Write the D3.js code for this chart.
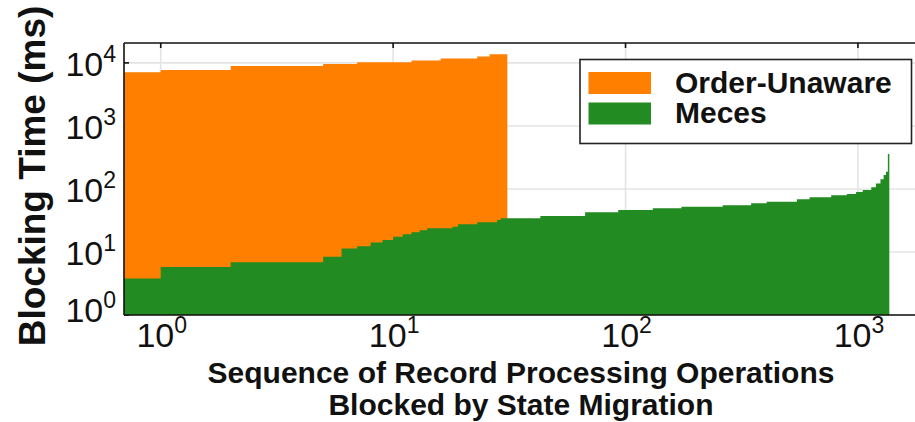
<!DOCTYPE html>
<html>
<head>
<meta charset="utf-8">
<script src="https://cdn.jsdelivr.net/npm/d3@7"></script>
<style>
  html, body { margin: 0; padding: 0; background: #fff; }
  svg { display: block; }
  text { font-family: "Liberation Sans", Arial, Helvetica, sans-serif; fill: #111; }
</style>
</head>
<body>
<svg id="chart" width="915" height="422"></svg>
<script>
// Sorted blocking time per record-processing operation.
// Each value holds from its start index until the next start (step plot).
const orderUnawareStart = [0, 1, 2, 5, 7, 12, 16, 23, 26];
const orderUnawareMs    = [7100, 7740, 8960, 9640, 10260, 10900, 11700, 12600, 13700];
const orderUnawareEnd   = 31;

const mecesStart = [0, 1, 2, 5, 6, 7, 8, 9, 10, 11, 12, 13, 14, 18, 19, 23, 28, 29,
                    43, 67, 93, 131, 174, 262, 347, 405, 546, 619, 767, 896, 982,
                    1049, 1141, 1195, 1250, 1290, 1320, 1345];
const mecesMs    = [3.8, 5.8, 6.9, 8.4, 11.4, 12.3, 14.1, 15.5, 17.5, 19.1, 20.5, 22.1, 23.8, 25.2, 27.5, 29.6, 32.2, 34.3,
                    37.3, 42.7, 46.4, 49.3, 52, 55, 59.3, 62.9, 68.6, 73.8, 79.4, 83.3, 89.6,
                    96.4, 106, 122, 143, 167, 188, 360];
const mecesEnd   = 1365;

const seriesNames  = ["Order-Unaware", "Meces"];
const seriesColors = ["#ff7f00", "#228b22"];
const xTickExps = [0, 1, 2, 3];
const yTickExps = [0, 1, 2, 3, 4];
const yTitle = "Blocking Time (ms)";
const xTitleLines = ["Sequence of Record Processing Operations", "Blocked by State Migration"];

const svg = d3.select("#chart");
const L = 124, R = 915, T = 43, B = 315;

const x = d3.scaleLog().domain([0.695, 1760]).range([L, R]);
const y = d3.scaleLog().domain([1, 20700]).range([B, T]);

// grid
const grid = svg.append("g").attr("stroke", "#e4e4e4").attr("stroke-width", 1.6);
xTickExps.forEach(e => {
  grid.append("line").attr("x1", x(10 ** e)).attr("x2", x(10 ** e)).attr("y1", T).attr("y2", B);
});
yTickExps.forEach(e => {
  grid.append("line").attr("x1", L).attr("x2", R + 10).attr("y1", y(10 ** e)).attr("y2", y(10 ** e));
});

// inward tick marks (drawn under the filled areas)
const ticks = svg.append("g").attr("stroke", "#111").attr("stroke-width", 1.6);
xTickExps.forEach(e => {
  const px = x(10 ** e);
  ticks.append("line").attr("x1", px).attr("x2", px).attr("y1", T).attr("y2", T + 5);
  ticks.append("line").attr("x1", px).attr("x2", px).attr("y1", B).attr("y2", B - 5);
});
yTickExps.forEach(e => {
  const py = y(10 ** e);
  ticks.append("line").attr("x1", L).attr("x2", L + 5).attr("y1", py).attr("y2", py);
});

// step areas
function steps(starts, values, end) {
  const pts = starts.map((s, i) => ({ x: Math.max(s, x.domain()[0]), v: values[i] }));
  pts.push({ x: end, v: values[values.length - 1] });
  return pts;
}
const area = d3.area()
  .curve(d3.curveStepAfter)
  .x(d => x(d.x))
  .y0(y(1))
  .y1(d => y(d.v));

svg.append("path")
  .datum(steps(orderUnawareStart, orderUnawareMs, orderUnawareEnd))
  .attr("fill", seriesColors[0])
  .attr("d", area);
svg.append("path")
  .datum(steps(mecesStart, mecesMs, mecesEnd))
  .attr("fill", seriesColors[1])
  .attr("d", area);

// frame
const frame = svg.append("g").attr("stroke", "#111").attr("stroke-width", 1.6).attr("fill", "none");
frame.append("line").attr("x1", L).attr("x2", R + 10).attr("y1", T).attr("y2", T);
frame.append("line").attr("x1", L).attr("x2", R + 10).attr("y1", B).attr("y2", B);
frame.append("line").attr("x1", L).attr("x2", L).attr("y1", T).attr("y2", B);

// tick labels
function powLabel(sel, e) {
  sel.append("tspan").text("10");
  sel.append("tspan").attr("font-size", 23).attr("dy", -14).text(String(e));
}
xTickExps.forEach(e => {
  svg.append("text")
    .attr("x", x(10 ** e) + 1)
    .attr("y", B + 32)
    .attr("text-anchor", "middle")
    .attr("font-size", 34)
    .call(powLabel, e);
});
yTickExps.forEach(e => {
  svg.append("text")
    .attr("x", 116)
    .attr("y", Math.min(y(10 ** e) + 13.5, 322))
    .attr("text-anchor", "end")
    .attr("font-size", 34)
    .call(powLabel, e);
});

// axis titles
svg.append("text")
  .attr("transform", "translate(45,176) rotate(-90)")
  .attr("text-anchor", "middle")
  .attr("font-size", 37)
  .attr("font-weight", "bold")
  .text(yTitle);
xTitleLines.forEach((t, i) => {
  svg.append("text")
    .attr("x", 521)
    .attr("y", 383 + i * 32)
    .attr("text-anchor", "middle")
    .attr("font-size", 30)
    .attr("font-weight", "bold")
    .text(t);
});

// legend
const lg = svg.append("g");
lg.append("rect")
  .attr("x", 580).attr("y", 59.5).attr("width", 331.5).attr("height", 84)
  .attr("fill", "#fff").attr("stroke", "#222").attr("stroke-width", 1.6);
seriesNames.forEach((name, i) => {
  lg.append("rect")
    .attr("x", 588.5).attr("y", 72 + i * 30.5).attr("width", 62.5).attr("height", 22)
    .attr("fill", seriesColors[i]);
  lg.append("text")
    .attr("x", 675).attr("y", 92.7 + i * 30.6)
    .attr("font-size", 30).attr("font-weight", "bold")
    .text(name);
});
</script>
</body>
</html>
